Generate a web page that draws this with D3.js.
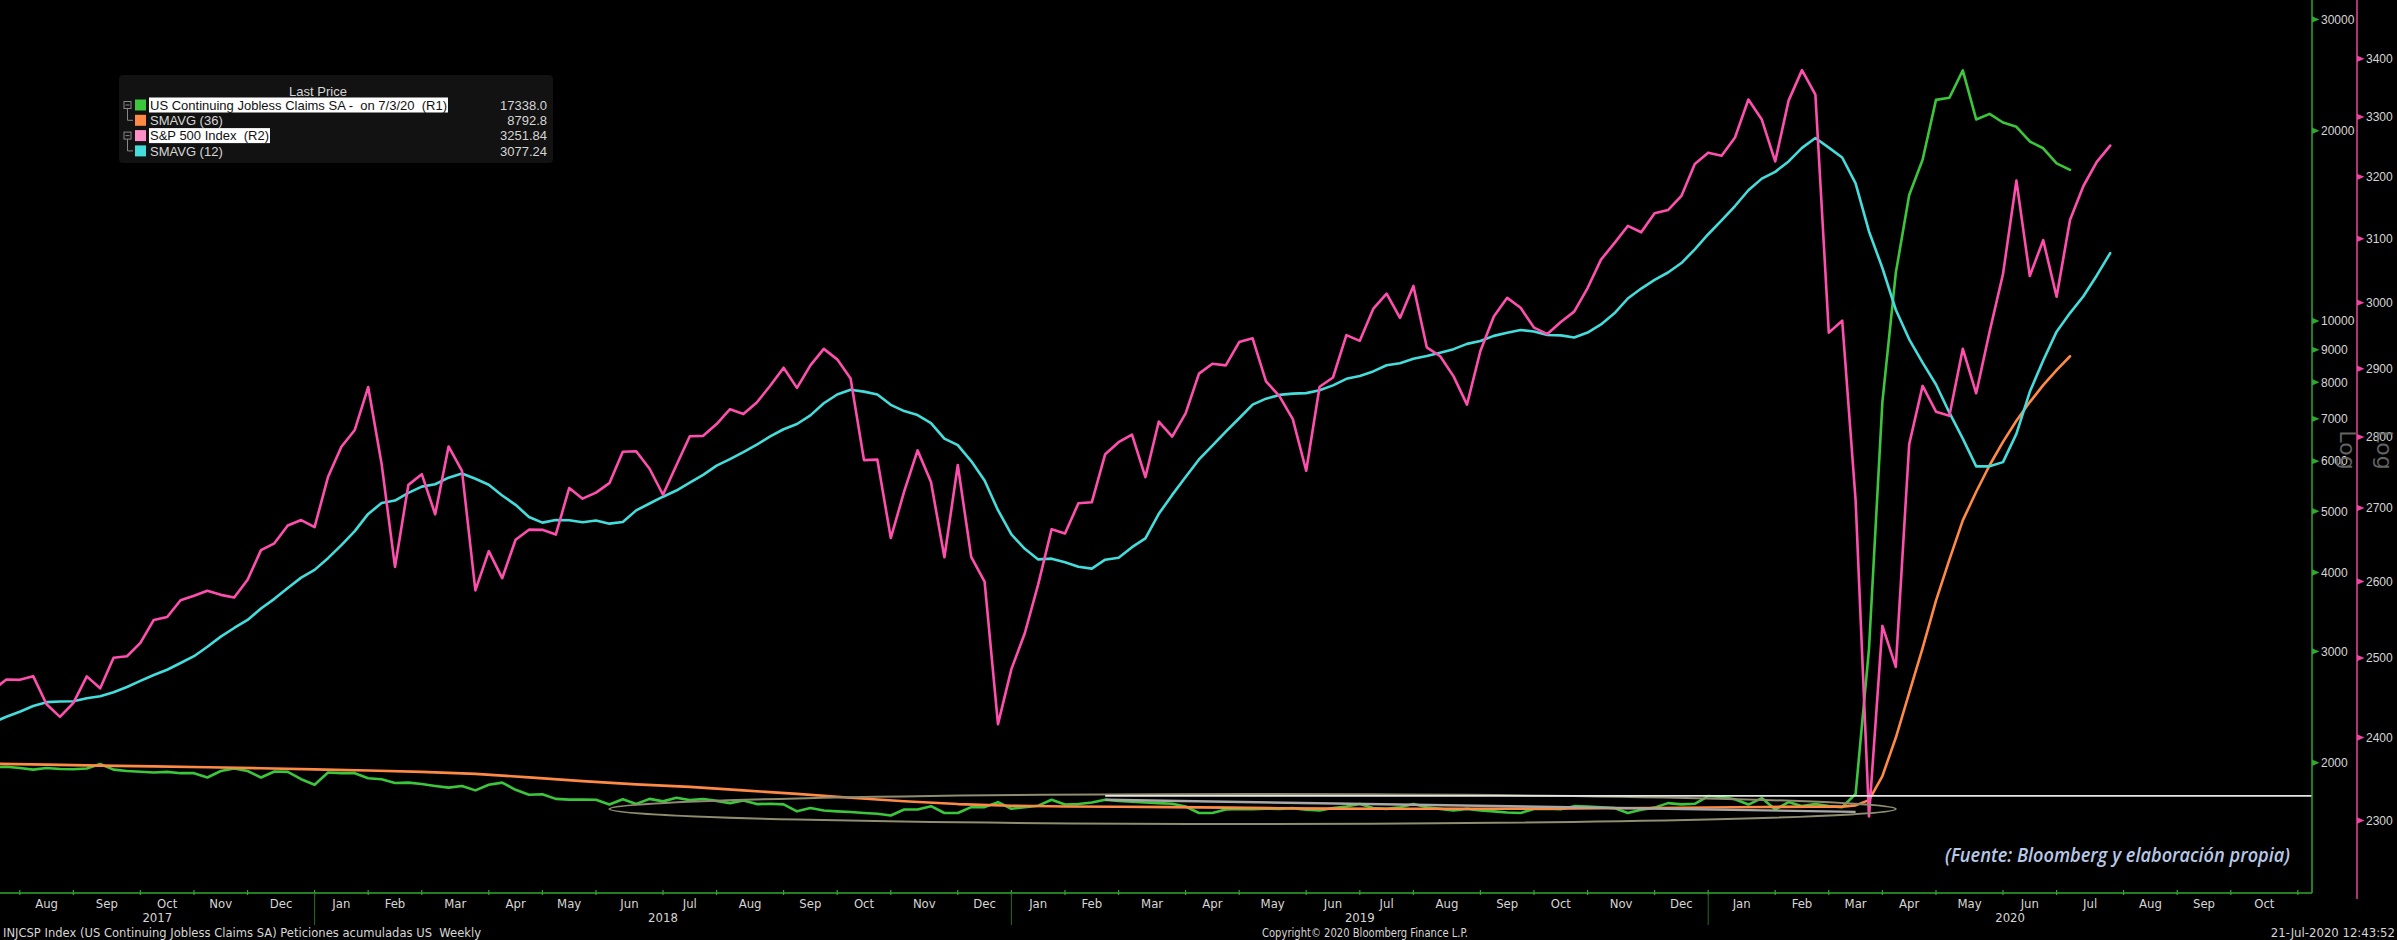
<!DOCTYPE html>
<html><head><meta charset="utf-8">
<script src="https://cdn.jsdelivr.net/npm/d3@7/dist/d3.min.js"></script>
<style>
html,body{margin:0;padding:0;background:#000;overflow:hidden;}
svg{display:block;}
text{white-space:pre;}
</style></head><body>
<svg id="c" width="2397" height="940"></svg>
<script>
// ---------------- DATA ----------------
// weekly (Friday) series
const spxStart = "2017-07-14";
const spxClose = [2459.27,2472.54,2472.10,2476.83,2441.32,2425.55,2443.05,2476.55,2461.43,2500.23,2502.22,2519.36,2549.33,2553.17,2575.21,2581.07,2587.84,2582.30,2578.85,2602.42,2642.22,2651.50,2675.81,2683.34,2673.61,
2743.15,2786.24,2810.30,2872.87,2762.13,2619.55,2732.22,2747.30,2691.25,2786.57,2752.01,2588.26,2640.87,2604.47,2656.30,2670.14,2669.91,2663.42,2727.72,2712.97,2721.33,2734.62,2779.03,2779.66,2754.88,2718.37,2759.82,2801.31,2801.83,2818.82,2840.35,2833.28,2850.13,2874.69,2901.52,2871.68,2904.98,2929.67,2913.98,2885.57,2767.13,2767.78,2658.69,2723.06,2781.01,2736.27,2632.56,2760.17,2633.08,2599.95,2416.62,2485.74,
2531.94,2596.26,2670.71,2664.76,2706.53,2707.88,2775.60,2792.67,2803.69,2743.07,2822.48,2800.71,2834.40,2892.74,2907.41,2905.03,2939.88,2945.64,2881.40,2859.53,2826.06,2752.06,2873.34,2886.98,2950.46,2941.76,2990.41,3013.77,2976.61,3025.86,2932.05,2918.65,2888.68,2847.11,2926.46,2978.71,3007.39,2992.07,2961.79,2952.01,2970.27,2986.20,3022.55,3066.91,3093.08,3120.46,3110.29,3140.98,3145.91,3168.80,3221.22,3240.02,
3234.85,3265.35,3329.62,3295.47,3225.52,3327.71,3380.16,3337.75,2954.22,2972.37,2711.02,2304.92,2541.47,2488.65,2789.82,2874.56,2836.74,2830.71,2929.80,2863.70,2955.45,3044.31,3193.93,3041.31,3097.74,3009.05,3130.01,3185.04,3224.73,3251.84];
const spxSma12 = [2418.4,2425.8,2431.9,2439.1,2444.0,2444.8,2445.2,2448.9,2451.3,2456.4,2463.0,2470.8,2478.3,2485.0,2493.6,2502.3,2514.5,2527.5,2538.8,2549.3,2564.3,2577.0,2591.5,2605.2,2615.6,
2631.4,2649.0,2668.1,2691.8,2706.8,2710.3,2721.1,2729.8,2733.1,2742.3,2748.1,2740.9,2732.4,2717.3,2704.4,2687.5,2679.8,2683.4,2683.1,2680.3,2682.8,2678.4,2680.7,2696.7,2706.2,2715.7,2724.3,2735.3,2746.3,2759.3,2768.6,2778.6,2789.3,2801.0,2811.3,2818.9,2831.4,2849.1,2861.9,2869.0,2866.1,2861.8,2846.8,2837.6,2831.8,2820.3,2797.8,2788.5,2765.8,2738.3,2696.9,2663.6,
2644.0,2629.7,2630.7,2625.8,2619.7,2617.3,2629.3,2632.0,2646.3,2658.2,2691.9,2718.2,2743.3,2768.1,2787.8,2807.8,2827.2,2847.0,2855.8,2861.3,2863.2,2863.9,2868.2,2875.3,2885.0,2889.1,2896.0,2905.1,2908.2,2914.8,2919.1,2924.0,2929.3,2937.2,2941.6,2949.3,2954.0,2958.2,2955.8,2950.7,2950.1,2946.8,2954.3,2966.7,2983.7,3006.4,3021.8,3035.3,3046.8,3061.6,3083.2,3107.2,
3129.3,3152.5,3178.1,3197.1,3208.2,3225.5,3248.0,3264.4,3248.4,3232.0,3189.5,3111.6,3053.8,2989.1,2944.1,2909.1,2876.7,2835.3,2797.8,2758.3,2758.3,2764.3,2804.6,2865.9,2912.3,2955.7,2984.0,3009.8,3042.2,3077.24];

const claimsStart = "2017-07-14";
const claims = [1968,1970,1962,1950,1962,1955,1953,1958,1990,1950,1940,1935,1930,1934,1925,1925,1895,1940,1958,1940,1895,1937,1934,1883,1845,
1930,1925,1925,1890,1883,1857,1860,1850,1837,1826,1837,1808,1845,1860,1812,1779,1783,1753,1748,1748,1747,1717,1750,1721,1753,1737,1760,1745,1752,1740,1726,1742,1720,1722,1718,1675,1695,1680,1675,1671,1665,1660,1650,1686,1686,1707,1665,1665,1701,1701,1732,
1691,1700,1710,1747,1717,1720,1730,1747,1740,1735,1730,1726,1722,1705,1665,1665,1686,1690,1688,1692,1690,1695,1685,1680,1695,1705,1720,1695,1690,1700,1720,1700,1690,1680,1690,1680,1675,1668,1665,1690,1692,1688,1707,1705,1700,1695,1665,1685,1698,1726,1718,1722,
1771,1765,1750,1717,1758,1686,1733,1707,1720,1707,1701,1784,3029,7446,11914,15819,17992,22377,22548,24912,20838,21268,20606,20289,19231,18760,17760,17338.0];

const claimsSma36Dates = ["2017-07-14","2017-08-11","2017-09-08","2017-10-06","2017-11-03","2017-12-01","2017-12-29","2018-01-26","2018-02-23","2018-03-23","2018-04-20","2018-05-18","2018-06-15","2018-07-13","2018-08-10","2018-09-07","2018-10-05","2018-11-02","2018-11-30","2018-12-28","2019-01-25","2019-02-22","2019-03-22","2019-04-19","2019-05-17","2019-06-14","2019-07-12","2019-08-09","2019-09-06","2019-10-04","2019-11-01","2019-11-29","2019-12-27","2020-01-24","2020-02-21","2020-02-28","2020-03-06","2020-03-13","2020-03-20","2020-03-27","2020-04-03","2020-04-10","2020-04-17","2020-04-24","2020-05-01","2020-05-08","2020-05-15","2020-05-22","2020-05-29","2020-06-05","2020-06-12","2020-06-19","2020-06-26","2020-07-03"];
const claimsSma36 = [1992,1986,1979,1973,1967,1960,1952,1944,1934,1920,1896,1870,1848,1831,1808,1785,1760,1738,1720,1710,1705,1703,1701,1698,1694,1692,1691,1691,1691,1692,1694,1696,1699,1702,1704,1704,1704,1712,1745,1905,2190,2580,3035,3610,4190,4835,5367,5911,6436,6953,7440,7914,8360,8792.8];

const claimTicks = [2000,3000,4000,5000,6000,7000,8000,9000,10000,20000,30000];
const spxTicks = [2300,2400,2500,2600,2700,2800,2900,3000,3100,3200,3300,3400];

const legendNames = ["US Continuing Jobless Claims SA -  on 7/3/20  (R1)","SMAVG (36)","S&P 500 Index  (R2)","SMAVG (12)"];
const legendValues = ["17338.0","8792.8","3251.84","3077.24"];
const legendHighlight = [true,false,true,false];

// annotations (in data units)
const hLineStart = "2019-02-15", hLineValue = 1772;
const trendLine = [["2019-02-15",1747],["2020-03-13",1672]];
const ellipseSpan = [["2018-06-01",1784],["2020-04-03",1600]];

// ---------------- LAYOUT ----------------
const COL = {green:"#3cc63c", orange:"#ff8a45", pink:"#ff4fae", cyan:"#45dcdc",
             gAxis:"#2fa82f", pAxis:"#e8469f", text:"#d6d6d6"};
const plotR = 2312, plotB = 893, pinkAxisX = 2357;
const parse = d3.utcParse("%Y-%m-%d");
const svg = d3.select("#c");
svg.append("rect").attr("width",2397).attr("height",940).attr("fill","#000");

const x = d3.scaleUtc()
  .domain([new Date(Date.UTC(2017,6,17,16)), new Date(Date.UTC(2020,10,6,10))])
  .range([0, plotR]);
const yC = d3.scaleLog().domain([1244,32200]).range([plotB,0]);
const yS = d3.scaleLog().domain([2216,3504]).range([plotB,0]);

const weekly = (start, arr) => arr.map((v,i)=>({d:d3.utcDay.offset(parse(start),7*i), v}));
const spxData = weekly(spxStart, spxClose);
const smaData = weekly(spxStart, spxSma12);
const clData  = weekly(claimsStart, claims);
const cl36Data = claimsSma36Dates.map((s,i)=>({d:parse(s), v:claimsSma36[i]}));

svg.append("defs").append("clipPath").attr("id","plot")
  .append("rect").attr("x",0).attr("y",0).attr("width",plotR).attr("height",plotB);

const g = svg.append("g").attr("clip-path","url(#plot)");
const lineC = d3.line().x(d=>x(d.d)).y(d=>yC(d.v));
const lineS = d3.line().x(d=>x(d.d)).y(d=>yS(d.v));
function draw(data, gen, color){
  g.append("path").datum(data).attr("d",gen).attr("fill","none")
   .attr("stroke",color).attr("stroke-width",2.6)
   .attr("stroke-linejoin","round").attr("stroke-linecap","round");
}
draw(clData, lineC, COL.green);
draw(cl36Data, lineC, COL.orange);
draw(smaData, lineS, COL.cyan);
draw(spxData, lineS, COL.pink);

// annotations
const ex1 = x(parse(ellipseSpan[0][0])), ex2 = x(parse(ellipseSpan[1][0]));
const ey1 = yC(ellipseSpan[0][1]), ey2 = yC(ellipseSpan[1][1]);
svg.append("ellipse").attr("cx",(ex1+ex2)/2).attr("cy",(ey1+ey2)/2)
  .attr("rx",(ex2-ex1)/2).attr("ry",(ey2-ey1)/2)
  .attr("fill","none").attr("stroke","#8f8c70").attr("stroke-width",2);
svg.append("line").attr("x1",x(parse(trendLine[0][0]))).attr("y1",yC(trendLine[0][1]))
  .attr("x2",x(parse(trendLine[1][0]))).attr("y2",yC(trendLine[1][1]))
  .attr("stroke","#a8a8a8").attr("stroke-width",2.4);
svg.append("line").attr("x1",x(parse(hLineStart))).attr("x2",plotR)
  .attr("y1",yC(hLineValue)).attr("y2",yC(hLineValue))
  .attr("stroke","#e6e6e6").attr("stroke-width",1.6);

// ---------- right axes ----------
svg.append("line").attr("x1",plotR).attr("x2",plotR).attr("y1",0).attr("y2",plotB)
  .attr("stroke",COL.gAxis).attr("stroke-width",1.5);
svg.append("line").attr("x1",pinkAxisX).attr("x2",pinkAxisX).attr("y1",0).attr("y2",plotB+6)
  .attr("stroke",COL.pAxis).attr("stroke-width",1.5);
const axFont = "'Liberation Sans', Arial, sans-serif";
claimTicks.forEach(t=>{
  const y = yC(t);
  svg.append("path").attr("d",`M${plotR},${y-3.2}L${plotR+7.5},${y}L${plotR},${y+3.2}Z`).attr("fill",COL.gAxis);
  svg.append("text").attr("x",plotR+9).attr("y",y).attr("dy","0.36em")
    .attr("font-family",axFont).attr("font-size",12).attr("fill",COL.text).text(t);
});
spxTicks.forEach(t=>{
  const y = yS(t);
  svg.append("path").attr("d",`M${pinkAxisX},${y-3.2}L${pinkAxisX+7.5},${y}L${pinkAxisX},${y+3.2}Z`).attr("fill",COL.pAxis);
  svg.append("text").attr("x",pinkAxisX+9).attr("y",y).attr("dy","0.36em")
    .attr("font-family",axFont).attr("font-size",12).attr("fill",COL.text).text(t);
});
// "Log" markers
[[2340,450],[2377,450]].forEach(p=>{
  svg.append("text").attr("transform",`translate(${p[0]},${p[1]}) rotate(90)`)
    .attr("text-anchor","middle").attr("font-family","'DejaVu Sans', sans-serif")
    .attr("font-size",22).attr("fill","#6e6e6e").attr("opacity",0.9).text("Log");
});

// ---------- bottom time axis ----------
const nFont = "'Liberation Sans Narrow','DejaVu Sans Condensed','Roboto Condensed',sans-serif";
svg.append("line").attr("x1",0).attr("x2",plotR).attr("y1",plotB).attr("y2",plotB)
  .attr("stroke",COL.gAxis).attr("stroke-width",1.5);
const months = d3.utcMonth.range(new Date(Date.UTC(2017,6,1)), new Date(Date.UTC(2020,11,2)));
const tickOf = m => d3.utcFriday.floor(d3.utcDay.offset(m,-1));
const monthFmt = d3.utcFormat("%b");
for (let i=0;i<months.length-1;i++){
  const t0 = x(tickOf(months[i])), t1 = x(tickOf(months[i+1]));
  if (t0>=0 && t0<=plotR){
    svg.append("line").attr("x1",t0).attr("x2",t0).attr("y1",plotB-3).attr("y2",plotB+2)
      .attr("stroke",COL.gAxis).attr("stroke-width",1.2);
    if (months[i].getUTCMonth()===0){
      svg.append("line").attr("x1",t0).attr("x2",t0).attr("y1",plotB).attr("y2",plotB+32)
        .attr("stroke","#1f6f1f").attr("stroke-width",1);
    }
  }
  const c = (t0+t1)/2;
  if (c>12 && c<plotR){
    svg.append("text").attr("x",c).attr("y",908).attr("text-anchor","middle")
      .attr("font-family",nFont).attr("font-size",13).attr("fill",COL.text).text(monthFmt(months[i]));
  }
}
const yearBounds = [0, x(tickOf(new Date(Date.UTC(2018,0,1)))), x(tickOf(new Date(Date.UTC(2019,0,1)))), x(tickOf(new Date(Date.UTC(2020,0,1)))), plotR];
["2017","2018","2019","2020"].forEach((yr,i)=>{
  svg.append("text").attr("x",(yearBounds[i]+yearBounds[i+1])/2).attr("y",922).attr("text-anchor","middle")
    .attr("font-family",nFont).attr("font-size",13).attr("fill",COL.text).text(yr);
});

// footer
svg.append("text").attr("x",3).attr("y",937).attr("font-family",nFont).attr("font-size",13)
  .attr("fill",COL.text).attr("textLength",478).attr("lengthAdjust","spacingAndGlyphs")
  .text("INJCSP Index (US Continuing Jobless Claims SA) Peticiones acumuladas US  Weekly");
svg.append("text").attr("x",1262).attr("y",937).attr("font-family",nFont).attr("font-size",13)
  .attr("fill",COL.text).attr("textLength",206).attr("lengthAdjust","spacingAndGlyphs")
  .text("Copyright\u00A9 2020 Bloomberg Finance L.P.");
svg.append("text").attr("x",2395).attr("y",937).attr("text-anchor","end").attr("font-family",nFont).attr("font-size",13)
  .attr("fill",COL.text).text("21-Jul-2020 12:43:52");

// source note
svg.append("text").attr("x",1945).attr("y",862).attr("font-family","'Open Sans',sans-serif")
  .attr("font-size",19).attr("font-style","italic").attr("font-weight",600).attr("fill","#b7c8e6")
  .attr("textLength",345).attr("lengthAdjust","spacingAndGlyphs")
  .text("(Fuente: Bloomberg y elaboración propia)");

// ---------- legend ----------
const L = svg.append("g").attr("transform","translate(119,75)");
L.append("rect").attr("width",434).attr("height",88).attr("rx",4).attr("fill","#121212");
L.append("text").attr("x",199).attr("y",21).attr("text-anchor","middle").attr("font-family",axFont)
  .attr("font-size",13).attr("fill",COL.text).text("Last Price");
const swatch = [COL.green, COL.orange, "#ff8fc8", COL.cyan];
legendNames.forEach((nm,i)=>{
  const yy = 30 + i*15.3;
  L.append("rect").attr("x",16).attr("y",yy-5.5).attr("width",11).attr("height",11).attr("fill",swatch[i]);
  const tx = L.append("text").attr("x",31).attr("y",yy).attr("dy","0.36em").attr("font-family",axFont)
    .attr("font-size",13).text(nm);
  if (legendHighlight[i]){
    const bb = tx.node().getBBox();
    L.insert("rect","text").attr("x",bb.x-1).attr("y",yy-7.5).attr("width",bb.width+2).attr("height",15).attr("fill","#ffffff");
    tx.attr("fill","#111");
  } else tx.attr("fill",COL.text);
  L.append("text").attr("x",428).attr("y",yy).attr("dy","0.36em").attr("text-anchor","end")
    .attr("font-family",axFont).attr("font-size",13).attr("fill",COL.text).text(legendValues[i]);
  // tree markers
  if (legendHighlight[i]){
    L.append("rect").attr("x",5).attr("y",yy-3.5).attr("width",7).attr("height",7).attr("fill","none").attr("stroke","#888").attr("stroke-width",1);
    L.append("line").attr("x1",6.5).attr("x2",10.5).attr("y1",yy).attr("y2",yy).attr("stroke","#888");
    L.append("path").attr("d",`M8.5,${yy+3.5}V${yy+15.3}H14`).attr("fill","none").attr("stroke","#888");
  }
});
</script>
</body></html>
